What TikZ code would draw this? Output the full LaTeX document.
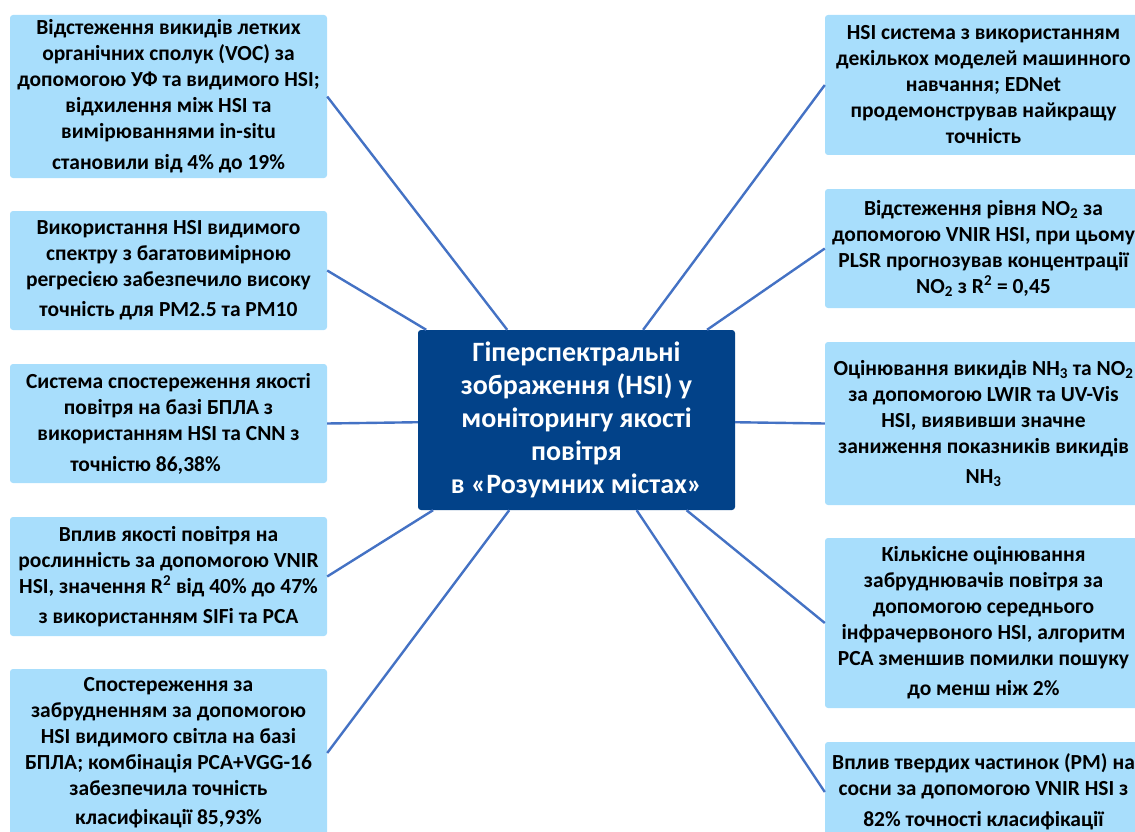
\documentclass[tikz,border=0pt]{standalone}
\usepackage{fontspec}
\setmainfont{Carlito}
\definecolor{boxblue}{RGB}{168,222,252}
\definecolor{hubblue}{RGB}{2,66,137}
\definecolor{linkblue}{RGB}{68,114,196}
\begin{document}
\begin{tikzpicture}[x=1pt,y=-1pt,
  leaf/.style={rectangle, rounded corners=3pt, fill=boxblue, draw=none,
    minimum width=317pt, inner sep=0pt, align=center,
    font=\fontsize{21.5}{26}\selectfont\bfseries, text=black},
  hub/.style={rectangle, rounded corners=3pt, fill=hubblue, draw=none,
    minimum width=317pt, minimum height=180pt, inner sep=0pt, align=center,
    font=\fontsize{28}{33}\selectfont\bfseries, text=white},
  link/.style={draw=linkblue, line width=2.4pt}]
\useasboundingbox (0,0) rectangle (1135,832);
\clip (0,0) rectangle (1135,832);

\node[hub] (c) at (576.5,420) {Гіперспектральні\\зображення (HSI) у\\моніторингу якості\\повітря\\в «Розумних містах»};

\node[leaf, minimum height=163pt] (l1) at (168.5,96.5) {Відстеження викидів летких\\органічних сполук (VOC) за\\допомогою УФ та видимого HSI;\\відхилення між HSI та\\вимірюваннями in-situ\\[5pt]становили від 4\% до 19\%};
\node[leaf, minimum height=119pt] (l2) at (168.5,270.5) {Використання HSI видимого\\спектру з багатовимірною\\регресією забезпечило високу\\[4pt]точність для PM2.5 та PM10};
\node[leaf, minimum height=119pt] (l3) at (168.5,423.5) {Система спостереження якості\\повітря на базі БПЛА з\\використанням HSI та CNN з\\[5pt]точністю 86,38\%\hspace*{46pt}};
\node[leaf, minimum height=119pt] (l4) at (168.5,576.5) {Вплив якості повітря на\\рослинність за допомогою VNIR\\HSI, значення R\textsuperscript{2} від 40\% до 47\%\\[4pt]з використанням SIFi та PCA};
\node[leaf, minimum height=168pt] (l5) at (168.5,753) {Спостереження за\\забрудненням за допомогою\\HSI видимого світла на базі\\БПЛА; комбінація PCA+VGG-16\\забезпечила точність\\[3pt]класифікації 85,93\%};

\node[leaf, minimum height=140pt] (r1) at (983.5,85) {HSI система з використанням\\декількох моделей машинного\\навчання; EDNet\\продемонстрував найкращу\\точність};
\node[leaf, minimum height=119pt] (r2) at (983.5,248.5) {Відстеження рівня NO\textsubscript{2} за\\допомогою VNIR HSI, при цьому\\PLSR прогнозував концентрації\\NO\textsubscript{2} з R\textsuperscript{2} = 0,45};
\node[leaf, minimum height=163pt] (r3) at (983.5,423.5) {Оцінювання викидів NH\textsubscript{3} та NO\textsubscript{2}\\за допомогою LWIR та UV-Vis\\HSI, виявивши значне\\заниження показників викидів\\[4pt]NH\textsubscript{3}};
\node[leaf, minimum height=170pt] (r4) at (983.5,623) {Кількісне оцінювання\\забруднювачів повітря за\\допомогою середнього\\інфрачервоного HSI, алгоритм\\PCA зменшив помилки пошуку\\[4pt]до менш ніж 2\%};
\node[leaf, minimum height=100pt] (r5) at (983.5,792) {Вплив твердих частинок (PM) на\\сосни за допомогою VNIR HSI з\\[5pt]82\% точності класифікації};

\foreach \n in {l1,l2,l3,l4,l5} \draw[link] (\n.east) -- (c);
\foreach \n in {r1,r2,r3,r4,r5} \draw[link] (\n.west) -- (c);
\end{tikzpicture}
\end{document}
